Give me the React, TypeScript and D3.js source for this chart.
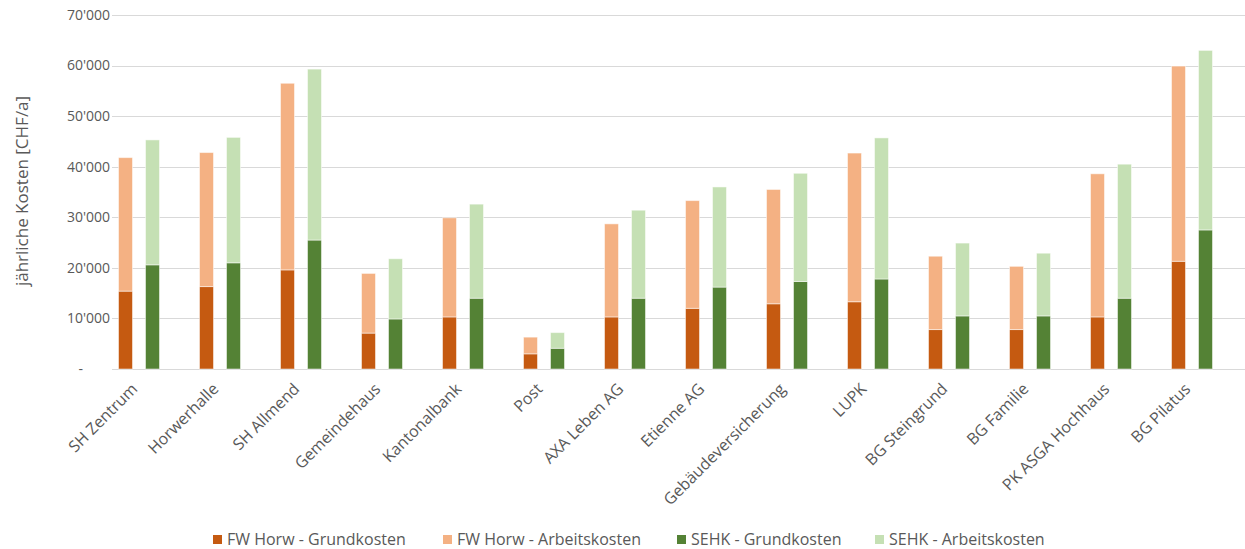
import { useEffect, useRef } from 'react';
import * as d3 from 'd3';

const categories = [
  'SH Zentrum', 'Horwerhalle', 'SH Allmend', 'Gemeindehaus', 'Kantonalbank', 'Post',
  'AXA Leben AG', 'Etienne AG', 'Gebäudeversicherung', 'LUPK', 'BG Steingrund',
  'BG Familie', 'PK ASGA Hochhaus', 'BG Pilatus',
];

// FW Horw
const fwGrund = [15400, 16300, 19600, 7100, 10300, 3000, 10300, 12000, 12900, 13300, 7800, 7800, 10300, 21300];
const fwArbeit = [26400, 26500, 36900, 11800, 19600, 3300, 18400, 21300, 22600, 29400, 14500, 12500, 28300, 38600];
// SEHK
const sehkGrund = [20600, 21000, 25500, 9900, 14000, 4100, 14000, 16200, 17300, 17800, 10500, 10500, 14000, 27500];
const sehkArbeit = [24700, 24800, 33800, 11900, 18600, 3100, 17400, 19800, 21400, 27900, 14400, 12400, 26500, 35500];

const yTicks = [0, 10000, 20000, 30000, 40000, 50000, 60000, 70000];

const seriesNames = ['FW Horw - Grundkosten', 'FW Horw - Arbeitskosten', 'SEHK - Grundkosten', 'SEHK - Arbeitskosten'];
const colors = ['#C55A11', '#F4B183', '#548235', '#C5E0B4'];

const W = 1245;
const H = 549;
const FONT = '"Open Sans", sans-serif';
const TEXT = '#595959';

export default function App() {
  const svgRef = useRef<SVGSVGElement>(null);

  useEffect(() => {
    const svg = d3.select(svgRef.current);
    svg.selectAll('*').remove();

    const x = d3.scaleBand().domain(categories).range([112, 1246]).padding(0);
    const y = d3.scaleLinear().domain([0, 70000]).range([369, 15]);
    const slot = x.bandwidth() / 3;
    const barW = 14;

    // gridlines
    svg.append('g')
      .selectAll('line')
      .data(yTicks)
      .enter()
      .append('line')
      .attr('x1', 112)
      .attr('x2', W)
      .attr('y1', (d) => Math.round(y(d)) + 0.5)
      .attr('y2', (d) => Math.round(y(d)) + 0.5)
      .attr('stroke', '#D9D9D9')
      .attr('stroke-width', 1);

    // y tick labels
    const fmt = (d: number) => (d === 0 ? '-' : d3.format(',')(d).replace(/,/g, "'"));
    svg.append('g')
      .selectAll('text')
      .data(yTicks)
      .enter()
      .append('text')
      .attr('x', (d) => (d === 0 ? 83 : 110))
      .attr('y', (d) => y(d))
      .attr('dy', '0.35em')
      .attr('text-anchor', 'end')
      .attr('font-family', FONT)
      .attr('font-size', 14)
      .attr('fill', TEXT)
      .text(fmt);

    // y axis title
    svg.append('text')
      .attr('transform', `translate(28,191) rotate(-90)`)
      .attr('text-anchor', 'middle')
      .attr('font-family', FONT)
      .attr('font-size', 17)
      .attr('fill', TEXT)
      .text('jährliche Kosten [CHF/a]');

    // stacked bars
    const groups = [
      { grund: fwGrund, arbeit: fwArbeit, offset: 0.5, c: [colors[0], colors[1]] },
      { grund: sehkGrund, arbeit: sehkArbeit, offset: 1.5, c: [colors[2], colors[3]] },
    ];
    groups.forEach((g) => {
      const gEl = svg.append('g');
      categories.forEach((cat, i) => {
        const cx = (x(cat) as number) + slot * g.offset;
        const v0 = g.grund[i];
        const v1 = v0 + g.arbeit[i];
        gEl.append('rect')
          .attr('x', cx - barW / 2)
          .attr('y', y(v0))
          .attr('width', barW)
          .attr('height', y(0) - y(v0))
          .attr('fill', g.c[0])
          .attr('stroke', '#ffffff')
          .attr('stroke-opacity', 0.5)
          .attr('stroke-width', 1);
        gEl.append('rect')
          .attr('x', cx - barW / 2)
          .attr('y', y(v1))
          .attr('width', barW)
          .attr('height', y(v0) - y(v1))
          .attr('fill', g.c[1])
          .attr('stroke', '#ffffff')
          .attr('stroke-opacity', 0.5)
          .attr('stroke-width', 1);
      });
    });

    // x labels
    svg.append('g')
      .selectAll('text')
      .data(categories)
      .enter()
      .append('text')
      .attr('transform', (d) => `translate(${(x(d) as number) + x.bandwidth() / 2 - 14},${390}) rotate(-45)`)
      .attr('text-anchor', 'end')
      .attr('font-family', FONT)
      .attr('font-size', 16)
      .attr('fill', TEXT)
      .text((d) => d);

    // legend
    const legendX = [213, 443, 677, 875];
    const leg = svg.append('g');
    seriesNames.forEach((name, i) => {
      leg.append('rect')
        .attr('x', legendX[i])
        .attr('y', 535)
        .attr('width', 9)
        .attr('height', 9)
        .attr('fill', colors[i]);
      leg.append('text')
        .attr('x', legendX[i] + 14)
        .attr('y', 539.5)
        .attr('dy', '0.35em')
        .attr('font-family', FONT)
        .attr('font-size', 16)
        .attr('fill', TEXT)
        .text(name);
    });
  }, []);

  return (
    <svg
      ref={svgRef}
      width={W}
      height={H}
      style={{ position: 'absolute', left: 0, top: 0, background: '#fff' }}
    />
  );
}
